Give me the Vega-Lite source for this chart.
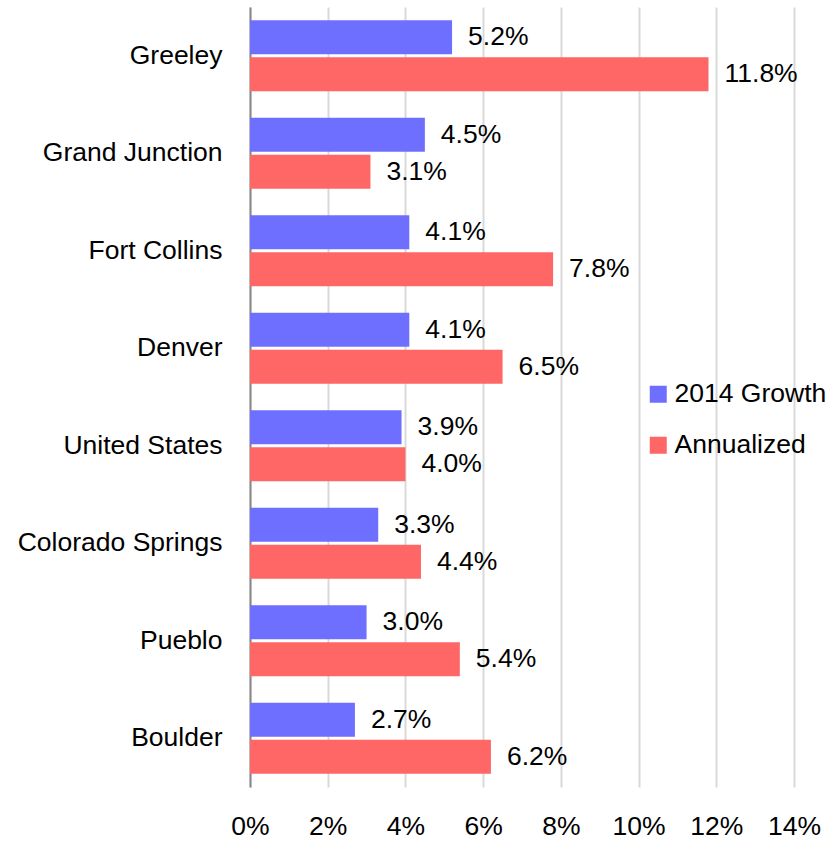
{
  "$schema": "https://vega.github.io/schema/vega-lite/v6.json",
  "width": 544,
  "height": 780,
  "autosize": "none",
  "padding": {"left": 250, "top": 7, "right": 44, "bottom": 55},
  "background": "white",
  "data": {
    "values": [
      {"city": "Greeley", "series": "2014 Growth", "value": 0.052},
      {"city": "Greeley", "series": "Annualized", "value": 0.118},
      {"city": "Grand Junction", "series": "2014 Growth", "value": 0.045},
      {"city": "Grand Junction", "series": "Annualized", "value": 0.031},
      {"city": "Fort Collins", "series": "2014 Growth", "value": 0.041},
      {"city": "Fort Collins", "series": "Annualized", "value": 0.078},
      {"city": "Denver", "series": "2014 Growth", "value": 0.041},
      {"city": "Denver", "series": "Annualized", "value": 0.065},
      {"city": "United States", "series": "2014 Growth", "value": 0.039},
      {"city": "United States", "series": "Annualized", "value": 0.040},
      {"city": "Colorado Springs", "series": "2014 Growth", "value": 0.033},
      {"city": "Colorado Springs", "series": "Annualized", "value": 0.044},
      {"city": "Pueblo", "series": "2014 Growth", "value": 0.030},
      {"city": "Pueblo", "series": "Annualized", "value": 0.054},
      {"city": "Boulder", "series": "2014 Growth", "value": 0.027},
      {"city": "Boulder", "series": "Annualized", "value": 0.062}
    ]
  },
  "encoding": {
    "y": {
      "field": "city",
      "type": "nominal",
      "sort": ["Greeley", "Grand Junction", "Fort Collins", "Denver", "United States", "Colorado Springs", "Pueblo", "Boulder"],
      "scale": {"paddingInner": 0.272, "paddingOuter": 0.136},
      "axis": {
        "title": null,
        "ticks": false,
        "grid": false,
        "domain": true,
        "domainColor": "#888888",
        "domainWidth": 2,
        "labelFont": "Liberation Sans",
        "labelFontSize": 26.5,
        "labelColor": "#000000",
        "labelPadding": 28,
        "labelLimit": 400
      }
    },
    "yOffset": {
      "field": "series",
      "type": "nominal",
      "sort": ["2014 Growth", "Annualized"],
      "scale": {"paddingInner": 0.08, "paddingOuter": 0}
    },
    "x": {
      "field": "value",
      "type": "quantitative",
      "scale": {"domain": [0, 0.14], "nice": false},
      "axis": {
        "title": null,
        "values": [0, 0.02, 0.04, 0.06, 0.08, 0.1, 0.12, 0.14],
        "format": ".0%",
        "domain": false,
        "ticks": false,
        "grid": true,
        "gridColor": "#d9d9d9",
        "gridWidth": 2,
        "labelFlush": false,
        "labelFont": "Liberation Sans",
        "labelFontSize": 26.5,
        "labelColor": "#000000",
        "labelPadding": 26
      }
    }
  },
  "layer": [
    {
      "mark": {"type": "bar"},
      "encoding": {
        "color": {
          "field": "series",
          "type": "nominal",
          "sort": ["2014 Growth", "Annualized"],
          "scale": {"domain": ["2014 Growth", "Annualized"], "range": ["#6F6FFF", "#FF6666"]},
          "legend": {
            "title": null,
            "orient": "none",
            "legendX": 395,
            "legendY": 374,
            "padding": 0,
            "symbolType": "square",
            "symbolSize": 289,
            "symbolStrokeWidth": 0,
            "labelFont": "Liberation Sans",
            "labelFontSize": 26.5,
            "labelColor": "#000000",
            "labelOffset": 3,
            "rowPadding": 24,
            "labelLimit": 400
          }
        }
      }
    },
    {
      "mark": {
        "type": "text",
        "align": "left",
        "baseline": "middle",
        "dx": 16,
        "font": "Liberation Sans",
        "fontSize": 26.5,
        "color": "#000000"
      },
      "encoding": {
        "text": {"field": "value", "type": "quantitative", "format": ".1%"}
      }
    }
  ],
  "config": {"view": {"stroke": null}}
}
